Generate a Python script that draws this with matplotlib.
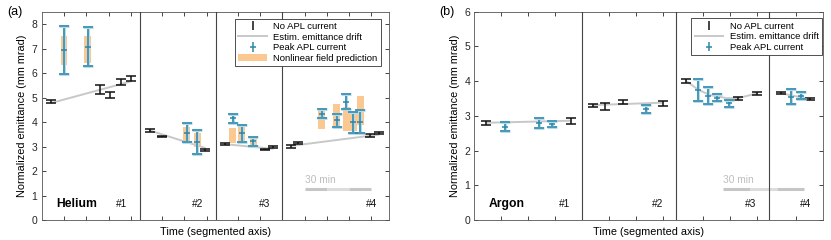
import numpy as np
import matplotlib
matplotlib.use('Agg')
import matplotlib.pyplot as plt
import matplotlib.patheffects as pe
from matplotlib.lines import Line2D
from matplotlib.patches import Patch

plt.rcParams['font.family'] = ['Liberation Sans', 'DejaVu Sans']
plt.rcParams['font.size'] = 7

# ---- Helium (a) ----
# segment durations (min); times below are local to each segment
he_seg_len = [44, 34, 30, 48]
he_ref_seg = [0, 0, 0, 0, 0, 1, 1, 1, 2, 2, 2, 3, 3, 3, 3]
he_ref_t = [4.2, 26.2, 30.7, 35.8, 39.9, 4.5, 10.2, 29.4, 4.1, 22.0, 25.7, 4.0, 7.1, 39.2, 43.4]
he_ref_val = [4.83, 5.33, 5.10, 5.65, 5.78, 3.66, 3.41, 2.86, 3.10, 2.89, 2.98, 3.01, 3.13, 3.44, 3.56]
he_ref_err = [0.06, 0.17, 0.13, 0.12, 0.09, 0.05, 0.03, 0.03, 0.03, 0.03, 0.04, 0.05, 0.04, 0.06, 0.04]

he_apl_seg = [0, 0, 1, 1, 2, 2, 2, 3, 3, 3, 3, 3]
he_apl_t = [10.0, 20.6, 21.1, 25.9, 7.8, 11.8, 16.9, 17.7, 24.4, 28.7, 31.9, 34.9]
he_apl_val = [6.94, 7.09, 3.57, 3.18, 4.15, 3.54, 3.22, 4.35, 4.07, 4.83, 3.99, 4.02]
he_apl_err = [0.99, 0.78, 0.39, 0.48, 0.19, 0.35, 0.18, 0.20, 0.25, 0.30, 0.43, 0.47]

he_pred_lo = [6.33, 6.41, 3.13, 2.99, 3.15, 3.16, 3.05, 3.72, 3.82, 3.65, 3.62, 3.88]
he_pred_hi = [7.51, 7.51, 3.80, 3.57, 3.75, 3.86, 3.43, 4.56, 4.76, 4.62, 4.43, 5.08]

he_drift_t = [[4.2, 39.9], [4.5, 29.4], [4.1, 25.7], [4.0, 43.4]]
he_drift_v = [[4.78, 5.66], [3.66, 2.94], [3.10, 2.91], [3.03, 3.49]]

# ---- Argon (b) ----
ar_seg_len = [40, 34.6, 34.7, 20]
ar_ref_seg = [0, 0, 1, 1, 1, 1, 2, 2, 2, 3, 3]
ar_ref_t = [4.3, 35.7, 3.9, 8.5, 15.2, 30.0, 3.8, 23.2, 30.2, 4.4, 15.1]
ar_ref_val = [2.80, 2.85, 3.30, 3.27, 3.40, 3.35, 4.01, 3.51, 3.65, 3.65, 3.48]
ar_ref_err = [0.05, 0.08, 0.05, 0.09, 0.07, 0.08, 0.06, 0.04, 0.04, 0.03, 0.03]

ar_apl_seg = [0, 0, 0, 1, 2, 2, 2, 2, 3, 3]
ar_apl_t = [11.5, 23.9, 28.9, 23.6, 8.1, 12.1, 15.2, 19.6, 8.0, 11.7]
ar_apl_val = [2.69, 2.79, 2.76, 3.20, 3.75, 3.58, 3.52, 3.36, 3.55, 3.58]
ar_apl_err = [0.14, 0.14, 0.09, 0.12, 0.32, 0.24, 0.10, 0.10, 0.22, 0.10]

ar_drift_t = [[4.3, 35.7], [3.9, 30.0], [3.8, 8.4, 12.7, 18.9, 23.2, 30.2], [4.4, 15.1]]
ar_drift_v = [[2.80, 2.86], [3.31, 3.38], [4.01, 3.75, 3.60, 3.51, 3.51, 3.65], [3.65, 3.48]]

black = '#111111'
blue = '#2a86aa'
orange = '#fcc892'
gray = '#c8c8c8'
frame = '#555555'


def draw_panel(ax, seg_len, ref_seg, ref_t, ref_val, ref_err,
               apl_seg, apl_t, apl_val, apl_err, drift_t, drift_v,
               ymax, gas, bar_start, pred_lo=None, pred_hi=None):
    offs = np.concatenate([[0], np.cumsum(seg_len)[:-1]])
    total = float(np.sum(seg_len))
    xr = offs[ref_seg] + np.array(ref_t)
    xa = offs[apl_seg] + np.array(apl_t)

    # prediction boxes
    if pred_lo is not None:
        lo = np.array(pred_lo)
        hi = np.array(pred_hi)
        ax.bar(xa, hi - lo, bottom=lo, width=3.1, color=orange, zorder=1)

    # drift lines
    for i in range(len(seg_len)):
        ax.plot(offs[i] + np.array(drift_t[i]), drift_v[i], color=gray, lw=1.4,
                zorder=2, solid_capstyle='round')

    # no APL current
    ax.errorbar(xr, ref_val, yerr=ref_err, fmt='none', ecolor=black,
                elinewidth=1.1, capsize=3.8, capthick=1.1, zorder=4)

    # peak APL current
    eb = ax.errorbar(xa, apl_val, yerr=apl_err, fmt='_', color=blue, ms=5, mew=1.1,
                     ecolor=blue, elinewidth=1.1, capsize=3.6, capthick=1.1, zorder=5)
    halo = [pe.Stroke(linewidth=2.2, foreground='#b9dbe8'), pe.Normal()]
    for art in list(eb[1]) + list(eb[2]):
        art.set_path_effects(halo)

    # segment dividers
    for o in offs[1:]:
        ax.axvline(o, color='#444444', lw=0.8, zorder=3)

    # ticks every 10 min inside each segment
    ticks = []
    for o, L in zip(offs, seg_len):
        k = 10
        while k < L - 0.5:
            ticks.append(o + k)
            k += 10
    ax.set_xticks(ticks)
    ax.set_xticklabels([])
    ax.set_xlim(0, total)
    ax.set_ylim(0, ymax)
    ax.set_yticks(range(0, int(ymax) + 1))
    ax.tick_params(direction='in', top=True, right=True, length=3, width=0.6,
                   colors='#262626', labelsize=7.5, pad=3)
    for s in ax.spines.values():
        s.set_color(frame)
        s.set_linewidth(0.6)

    # segment labels
    for i, o in enumerate(offs):
        ax.annotate('#%d' % (i + 1), xy=(o + seg_len[i], 0.077),
                    xycoords=('data', 'axes fraction'), xytext=(-9, 0),
                    textcoords='offset points', ha='right', va='center',
                    fontsize=7.3, color='#111111')
    ax.text(0.042, 0.077, gas, transform=ax.transAxes, fontsize=8.7,
            fontweight='bold', va='center', ha='left')

    # 30 min scale bar
    ybar = 0.15 * ymax
    for j, c in enumerate(['#c6c6c6', '#dcdcdc', '#c6c6c6']):
        ax.plot([bar_start + 10 * j, bar_start + 10 * (j + 1)], [ybar, ybar],
                color=c, lw=2.2, solid_capstyle='butt', zorder=2)
    ax.annotate('30 min', xy=(bar_start, ybar), xytext=(0, 6.5),
                textcoords='offset points', color='#bdbdbd',
                fontsize=7.3, ha='left', va='center')

    ax.set_xlabel('Time (segmented axis)', fontsize=7.8, labelpad=2)
    ax.set_ylabel('Normalized emittance (mm mrad)', fontsize=7.8, labelpad=3)


fig = plt.figure(figsize=(8.31, 2.4), dpi=100)
ax1 = fig.add_axes([41.7 / 831, 20 / 240, 347.6 / 831, 208 / 240])
ax2 = fig.add_axes([474.3 / 831, 20 / 240, 349 / 831, 208.3 / 240])

draw_panel(ax1, he_seg_len, he_ref_seg, he_ref_t, he_ref_val, he_ref_err,
           he_apl_seg, he_apl_t, he_apl_val, he_apl_err, he_drift_t, he_drift_v,
           8.5, 'Helium', 118, he_pred_lo, he_pred_hi)
draw_panel(ax2, ar_seg_len, ar_ref_seg, ar_ref_t, ar_ref_val, ar_ref_err,
           ar_apl_seg, ar_apl_t, ar_apl_val, ar_apl_err, ar_drift_t, ar_drift_v,
           6, 'Argon', 92.2)

# legends
h_ref = ax1.errorbar([], [], yerr=[], fmt='none', ecolor=black, elinewidth=1.1,
                     capsize=3.8, capthick=1.1)
h_drift = Line2D([], [], color=gray, lw=1.4)
h_apl = ax1.errorbar([], [], yerr=[], fmt='_', color=blue, ms=5, mew=1.1,
                     ecolor=blue, elinewidth=1.1, capsize=3.6, capthick=1.1)
h_pred = Patch(facecolor=orange, edgecolor='none')
labels = ['No APL current', 'Estim. emittance drift', 'Peak APL current',
          'Nonlinear field prediction']

leg_kw = dict(loc='upper right', fontsize=6.8, fancybox=False, framealpha=1,
              edgecolor='#333333', handlelength=3.0, labelspacing=0.18,
              borderpad=0.35, handletextpad=0.7, borderaxespad=0)
leg1 = ax1.legend([h_ref, h_drift, h_apl, h_pred], labels,
                  bbox_to_anchor=(0.976, 0.968), **leg_kw)
leg1.get_frame().set_linewidth(0.6)
leg1.set_zorder(10)
leg2 = ax2.legend([h_ref, h_drift, h_apl], labels[:3],
                  bbox_to_anchor=(0.996, 0.968), **leg_kw)
leg2.get_frame().set_linewidth(0.6)
leg2.set_zorder(10)

fig.text(7 / 831, 1 - 12 / 240, '(a)', fontsize=9, va='center', ha='left')
fig.text(439 / 831, 1 - 12 / 240, '(b)', fontsize=9, va='center', ha='left')

fig.savefig('out.png', dpi=100)
